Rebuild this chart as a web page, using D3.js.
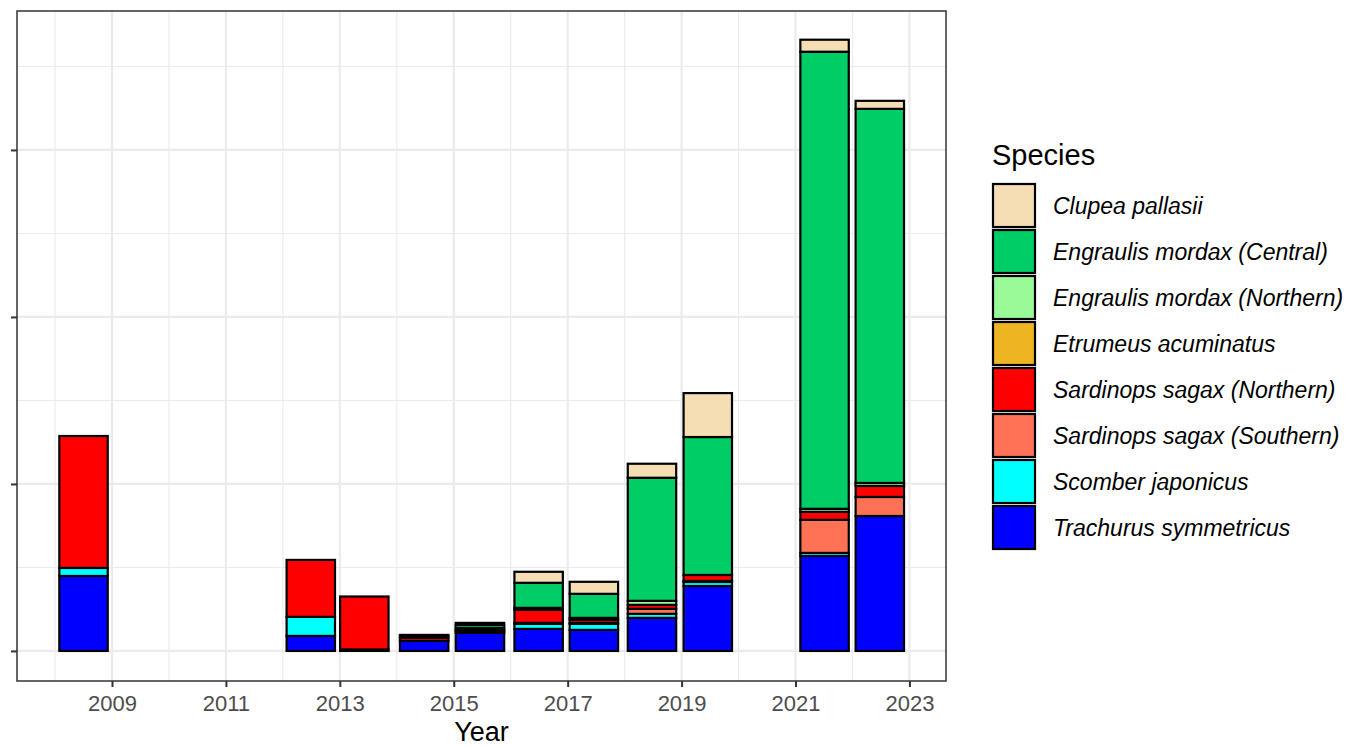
<!DOCTYPE html>
<html>
<head>
<meta charset="utf-8">
<script src="https://cdn.jsdelivr.net/npm/d3@7"></script>
<style>
  body { margin: 0; background: #fff; }
  svg { display: block; }
  text { font-family: "Liberation Sans", Arial, Helvetica, sans-serif; }
</style>
</head>
<body>
<svg id="chart" width="1352" height="746"></svg>
<script>
// ---------------- data ----------------
const years = [2008, 2012, 2013, 2014, 2015, 2016, 2017, 2018, 2019, 2021, 2022];
// bar centre (decimal year of survey)
const surveyDate = [2008.50, 2012.49, 2013.43, 2014.48, 2015.46, 2016.49, 2017.46, 2018.48, 2019.46, 2021.51, 2022.48];

// species, in stacking order bottom -> top
const species = [
  "Trachurus symmetricus",
  "Scomber japonicus",
  "Sardinops sagax (Southern)",
  "Sardinops sagax (Northern)",
  "Etrumeus acuminatus",
  "Engraulis mordax (Northern)",
  "Engraulis mordax (Central)",
  "Clupea pallasii"
];
const speciesColors = ["#0000FF", "#00FFFF", "#FF7256", "#FF0000", "#EEB422", "#98FB98", "#00CD66", "#F5DEB3"];

// biomass by species (same order as years)
const trachurus      = [449,  90,   9,  60, 108, 132, 126, 198, 389,  569,  808];
const scomber        = [ 48, 114,   0,   0,  12,  30,  36,  24,  24,   18,    0];
const sardinopsSouth = [  0,   0,   0,   0,   6,   6,   6,  30,   6,  198,  114];
const sardinopsNorth = [790, 341, 317,  18,  12,  78,  18,  24,  36,   48,   66];
const etrumeus       = [  0,   0,   0,   0,   0,   0,   0,   0,   0,    0,    0];
const engraulisNorth = [  0,   0,   0,   0,   0,  12,  12,  24,   0,   18,   18];
const engraulisCent  = [  0,   0,   0,  12,  18, 150, 144, 737, 826, 2737, 2240];
const clupea         = [  0,   0,   0,   6,  12,  66,  72,  84, 263,   72,   48];

const xTicks = [2009, 2011, 2013, 2015, 2017, 2019, 2021, 2023];
const yTicks = [0, 1000, 2000, 3000];

const seriesValues = [trachurus, scomber, sardinopsSouth, sardinopsNorth, etrumeus, engraulisNorth, engraulisCent, clupea];
const table = years.map((y, i) => {
  const row = { year: y, date: surveyDate[i] };
  species.forEach((s, k) => row[s] = seriesValues[k][i]);
  return row;
});

// ---------------- layout ----------------
const svg = d3.select("#chart");
const panel = { left: 17, right: 946, top: 11, bottom: 681 };

const x = d3.scaleLinear().domain([2007.332, 2023.642]).range([panel.left, panel.right]);
const y = d3.scaleLinear().domain([-180, 3832]).range([panel.bottom, panel.top]);
const color = d3.scaleOrdinal().domain(species).range(speciesColors);
const barWidth = 0.85; // years

// panel background
svg.append("rect")
  .attr("x", panel.left).attr("y", panel.top)
  .attr("width", panel.right - panel.left).attr("height", panel.bottom - panel.top)
  .attr("fill", "#fff");

const grid = svg.append("g");
// minor grid
const xMinor = d3.range(2008, 2024, 2);
const yMinor = yTicks.map(v => v + 500).filter(v => y(v) > panel.top);
grid.selectAll(".xminor").data(xMinor).join("line")
  .attr("x1", d => x(d)).attr("x2", d => x(d))
  .attr("y1", panel.top).attr("y2", panel.bottom)
  .attr("stroke", "#EBEBEB").attr("stroke-width", 1.1);
grid.selectAll(".yminor").data(yMinor).join("line")
  .attr("x1", panel.left).attr("x2", panel.right)
  .attr("y1", d => y(d)).attr("y2", d => y(d))
  .attr("stroke", "#EBEBEB").attr("stroke-width", 1.1);
// major grid
grid.selectAll(".xmajor").data(xTicks).join("line")
  .attr("x1", d => x(d)).attr("x2", d => x(d))
  .attr("y1", panel.top).attr("y2", panel.bottom)
  .attr("stroke", "#EBEBEB").attr("stroke-width", 2.2);
grid.selectAll(".ymajor").data(yTicks).join("line")
  .attr("x1", panel.left).attr("x2", panel.right)
  .attr("y1", d => y(d)).attr("y2", d => y(d))
  .attr("stroke", "#EBEBEB").attr("stroke-width", 2.2);

// stacked bars
const stack = d3.stack().keys(species);
const layers = stack(table);

svg.append("g").selectAll("g").data(layers).join("g")
  .attr("fill", d => color(d.key))
  .selectAll("rect").data(d => d).join("rect")
  .attr("x", d => x(d.data.date - barWidth / 2))
  .attr("width", d => x(d.data.date + barWidth / 2) - x(d.data.date - barWidth / 2))
  .attr("y", d => y(d[1]))
  .attr("height", d => Math.max(0, y(d[0]) - y(d[1])))
  .attr("stroke", d => (d[1] - d[0]) > 0 ? "#000" : "none")
  .attr("stroke-width", 2.2);

// panel border
svg.append("rect")
  .attr("x", panel.left).attr("y", panel.top)
  .attr("width", panel.right - panel.left).attr("height", panel.bottom - panel.top)
  .attr("fill", "none").attr("stroke", "#333333").attr("stroke-width", 1.5);

// axes
const xAxis = d3.axisBottom(x).tickValues(xTicks).tickFormat(d3.format("d")).tickSize(6).tickPadding(8);
const gx = svg.append("g").attr("transform", `translate(0,${panel.bottom})`).call(xAxis);
gx.select(".domain").remove();
gx.selectAll(".tick line").attr("stroke", "#333333").attr("stroke-width", 2);
gx.selectAll(".tick text").attr("fill", "#4D4D4D").style("font-size", "22px")
  .style("font-family", "'Liberation Sans', Arial, sans-serif");

const yAxis = d3.axisLeft(y).tickValues(yTicks).tickFormat("").tickSize(6);
const gy = svg.append("g").attr("transform", `translate(${panel.left},0)`).call(yAxis);
gy.select(".domain").remove();
gy.selectAll(".tick line").attr("stroke", "#333333").attr("stroke-width", 2);

svg.append("text")
  .attr("x", (panel.left + panel.right) / 2).attr("y", 741)
  .attr("text-anchor", "middle").attr("fill", "#000")
  .style("font-size", "27px").text("Year");

// legend
const legend = svg.append("g").attr("transform", "translate(993,0)");
legend.append("text").attr("x", -1).attr("y", 165).attr("fill", "#000")
  .style("font-size", "29px").text("Species");
const legendOrder = species.slice().reverse();
const item = legend.selectAll(".item").data(legendOrder).join("g")
  .attr("transform", (d, i) => `translate(0,${184 + i * 46})`);
item.append("rect").attr("width", 42).attr("height", 43)
  .attr("fill", d => color(d)).attr("stroke", "#000").attr("stroke-width", 2.2);
item.append("text").attr("x", 60).attr("y", 30).attr("fill", "#000")
  .style("font-size", "23px").style("font-style", "italic").text(d => d);
</script>
</body>
</html>
